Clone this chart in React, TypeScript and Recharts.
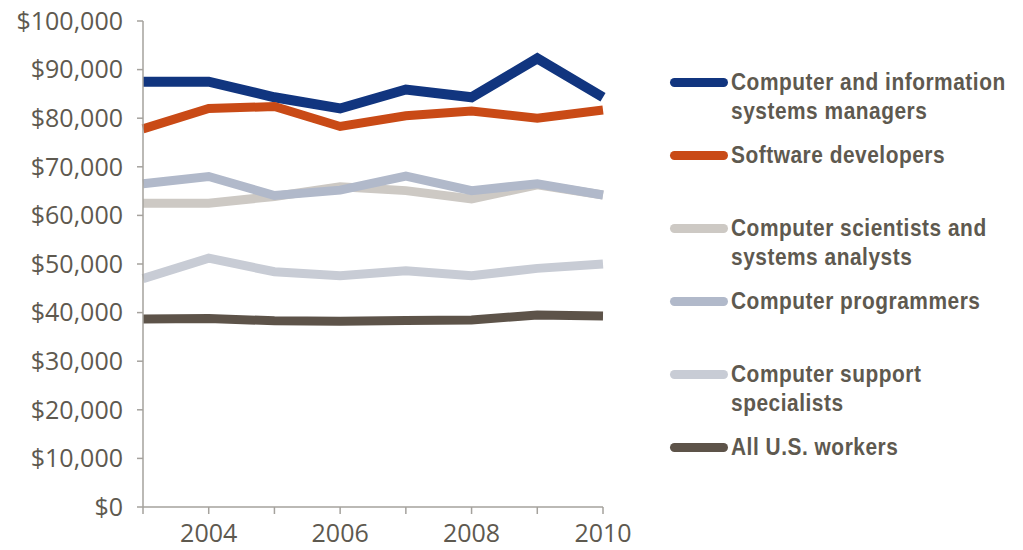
import React from 'react';
import { LineChart, Line, XAxis, YAxis } from 'recharts';

const years = [2003, 2004, 2005, 2006, 2007, 2008, 2009, 2010];
const managers = [87500, 87500, 84300, 82000, 85900, 84300, 92300, 84300];
const developers = [77800, 82000, 82400, 78300, 80500, 81500, 80000, 81700];
const scientists = [62500, 62500, 63900, 65900, 65100, 63400, 66300, 64200];
const programmers = [66500, 68000, 64100, 65200, 68100, 65100, 66500, 64200];
const support = [47000, 51200, 48400, 47600, 48600, 47600, 49100, 50000];
const allWorkers = [38700, 38800, 38300, 38200, 38400, 38500, 39500, 39300];

const yTicks = [0, 10000, 20000, 30000, 40000, 50000, 60000, 70000, 80000, 90000, 100000];
const xLabels = [2004, 2006, 2008, 2010];

const series = [
  { key: 'managers', values: managers, color: '#11357f', width: 10, label: ['Computer and information', 'systems managers'] },
  { key: 'developers', values: developers, color: '#c94a16', width: 9, label: ['Software developers'] },
  { key: 'scientists', values: scientists, color: '#cdc9c4', width: 9, label: ['Computer scientists and', 'systems analysts'] },
  { key: 'programmers', values: programmers, color: '#b1b9ca', width: 9, label: ['Computer programmers'] },
  { key: 'support', values: support, color: '#c8ccd5', width: 9, label: ['Computer support', 'specialists'] },
  { key: 'allWorkers', values: allWorkers, color: '#5d5349', width: 9, label: ['All U.S. workers'] },
];

const data = years.map((year, i) => {
  const row: Record<string, number> = { year };
  series.forEach((s) => {
    row[s.key] = s.values[i];
  });
  return row;
});

const textColor = '#5e594f';
const axisColor = '#a5a29d';

const App: React.FC = () => {
  return (
    <div style={{ position: 'absolute', left: 0, top: 0, width: 1023, height: 550, background: '#fff' }}>
      <LineChart width={1023} height={550} data={data} margin={{ top: 21, right: 420, bottom: 0, left: 0 }}>
        <XAxis
          dataKey="year"
          type="number"
          domain={[2003, 2010]}
          ticks={years}
          tickFormatter={(v: number) => (xLabels.includes(v) ? String(v) : '')}
          height={43}
          tickSize={7}
          tickMargin={10}
          stroke={axisColor}
          strokeWidth={1.5}
          tick={{ fill: textColor, fontSize: 25, fontFamily: '"Open Sans", sans-serif' }}
        />
        <YAxis
          domain={[0, 100000]}
          ticks={yTicks}
          width={143}
          tickSize={6}
          tickMargin={14}
          interval={0}
          stroke={axisColor}
          strokeWidth={1.5}
          tickFormatter={(v: number) => '$' + v.toLocaleString('en-US')}
          tick={{ fill: textColor, fontSize: 25, fontFamily: '"Open Sans", sans-serif' }}
        />
        {series.map((s) => (
          <Line
            key={s.key}
            dataKey={s.key}
            type="linear"
            stroke={s.color}
            strokeWidth={s.width}
            dot={false}
            activeDot={false}
            isAnimationActive={false}
          />
        ))}
      </LineChart>

      {/* legend */}
      <div style={{ position: 'absolute', left: 670, top: 67 }}>
        {series.map((s) => (
          <div key={s.key} style={{ position: 'relative', height: 73 }}>
            <div
              style={{
                position: 'absolute',
                left: 0,
                top: 11,
                width: 58,
                height: 9,
                borderRadius: 5,
                background: s.color,
              }}
            />
            <div
              style={{
                position: 'absolute',
                left: 61,
                top: 0,
                color: textColor,
                fontFamily: '"Liberation Sans", Arial, sans-serif',
                fontWeight: 'bold',
                fontSize: 24,
                lineHeight: '29px',
                letterSpacing: 0.6,
                whiteSpace: 'nowrap',
                transform: 'scaleX(0.87)',
                transformOrigin: 'left center',
              }}
            >
              {s.label.map((line) => (
                <div key={line}>{line}</div>
              ))}
            </div>
          </div>
        ))}
      </div>
    </div>
  );
};

export default App;
